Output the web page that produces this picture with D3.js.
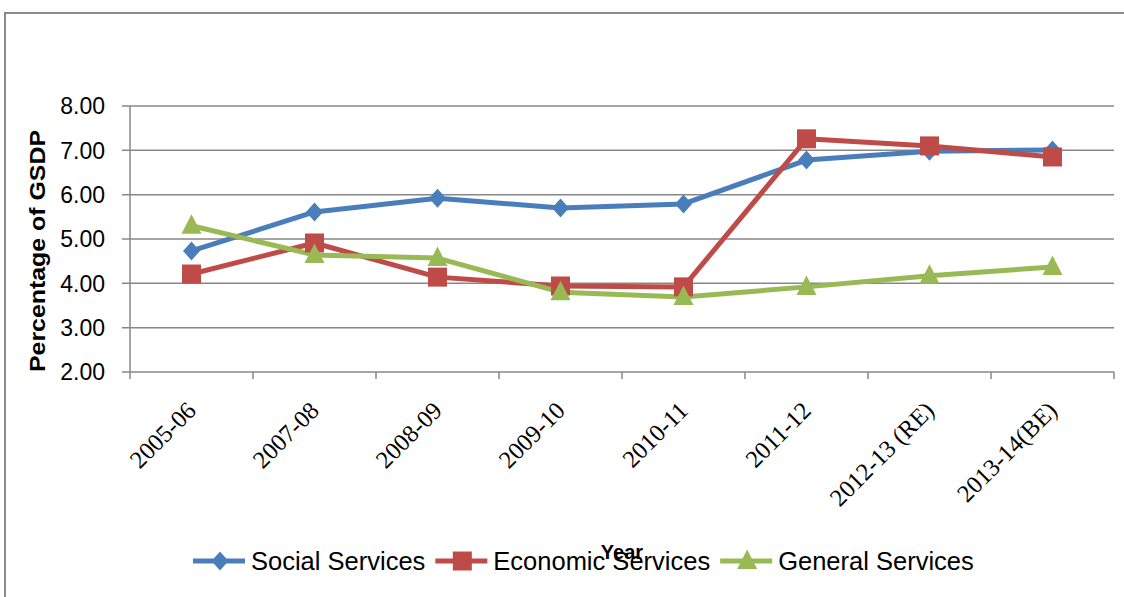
<!DOCTYPE html>
<html><head><meta charset="utf-8">
<script src="https://cdn.jsdelivr.net/npm/d3@7"></script>
<style>body{margin:0;background:#fff}svg{display:block}</style>
</head><body>
<svg id="c" width="1124" height="597"></svg>
<script>
const categories = ["2005-06","2007-08","2008-09","2009-10","2010-11","2011-12","2012-13 (RE)","2013-14(BE)"];
const social   = [4.73,5.61,5.92,5.70,5.79,6.78,6.98,7.01];
const economic = [4.21,4.91,4.14,3.94,3.92,7.26,7.10,6.85];
const general  = [5.30,4.64,4.57,3.80,3.69,3.92,4.17,4.37];
const yTicks = [2,3,4,5,6,7,8];
const seriesNames = ["Social Services","Economic Services","General Services"];
const colors = ["#4A7EBB","#BE4B48","#98B954"];
const series = [social, economic, general];

// marker shapes
const diamond = {draw(c){c.moveTo(0,-9.5);c.lineTo(8.5,0);c.lineTo(0,9.5);c.lineTo(-8.5,0);c.closePath();}};
const square  = {draw(c){c.rect(-9.5,-9.5,19,19);}};
const triangle= {draw(c){c.moveTo(0,-11.5);c.lineTo(10,8);c.lineTo(-10,8);c.closePath();}};
const shapes = [diamond, square, triangle];

const svg = d3.select("#c");
const sans = "Liberation Sans, Arial, sans-serif";
// frame
svg.append("path").attr("d","M5,597 V13 H1124").attr("fill","none").attr("stroke","#8c8c8c").attr("stroke-width",2);

const L=130,R=1114,T=106,B=372;
const x = d3.scaleBand().domain(categories).range([L,R]);
const y = d3.scaleLinear().domain([2,8]).range([B,T]);
const cx = c => x(c)+x.bandwidth()/2;

// gridlines
svg.append("g").selectAll("line").data(yTicks).join("line")
  .attr("x1",L-8).attr("x2",R).attr("y1",d=>y(d)).attr("y2",d=>y(d))
  .attr("stroke","#878787").attr("stroke-width",1.5);
svg.append("line").attr("x1",L).attr("x2",L).attr("y1",T).attr("y2",B+1).attr("stroke","#878787").attr("stroke-width",1.5);
svg.append("g").selectAll("text").data(yTicks).join("text")
  .attr("x",105).attr("y",d=>y(d)).attr("dy","0.36em").attr("text-anchor","end")
  .attr("font-family",sans).attr("font-size",23).attr("fill","#000")
  .text(d=>d3.format(".2f")(d));
// x ticks
const edges = categories.map(c=>x(c)).concat([R]);
svg.append("g").selectAll("line").data(edges).join("line")
  .attr("x1",d=>d).attr("x2",d=>d).attr("y1",B).attr("y2",B+7)
  .attr("stroke","#878787").attr("stroke-width",1.5);
svg.append("g").selectAll("text").data(categories).join("text")
  .attr("transform",d=>`translate(${cx(d)+6},${B+40}) rotate(-45)`)
  .attr("text-anchor","end")
  .attr("font-family","Liberation Serif, Times New Roman, serif").attr("font-size",24.5).attr("fill","#000")
  .text(d=>d);

// y title
svg.append("text").attr("transform","translate(45,251) rotate(-90)").attr("text-anchor","middle")
  .attr("font-family",sans).attr("font-weight","bold").attr("font-size",22)
  .attr("textLength",242).attr("lengthAdjust","spacingAndGlyphs")
  .text("Percentage of GSDP");

// lines & markers
const line = d3.line().x((d,i)=>cx(categories[i])).y(d=>y(d));
series.forEach((s,k)=>{
  svg.append("path").datum(s).attr("d",line).attr("fill","none").attr("stroke",colors[k]).attr("stroke-width",5).attr("stroke-linejoin","round");
});
series.forEach((s,k)=>{
  svg.append("g").selectAll("path").data(s).join("path")
    .attr("transform",(d,i)=>`translate(${cx(categories[i])},${y(d)})`)
    .attr("d",d3.symbol().type(shapes[k])).attr("fill",colors[k]);
});

// x title
svg.append("text").attr("x",622).attr("y",559).attr("text-anchor","middle")
  .attr("font-family",sans).attr("font-weight","bold").attr("font-size",20).text("Year");

// legend
let lx = 193; const ly = 561;
seriesNames.forEach((n,k)=>{
  const g=svg.append("g");
  g.append("line").attr("x1",lx).attr("x2",lx+52).attr("y1",ly).attr("y2",ly).attr("stroke",colors[k]).attr("stroke-width",5);
  g.append("path").attr("transform",`translate(${lx+27},${ly})`).attr("d",d3.symbol().type(shapes[k])).attr("fill",colors[k]);
  const t = g.append("text").attr("x",lx+58).attr("y",ly).attr("dy","0.36em")
    .attr("font-family",sans).attr("font-size",25.5).text(n);
  lx = lx + 58 + t.node().getComputedTextLength() + 10;
});
</script>
</body></html>
